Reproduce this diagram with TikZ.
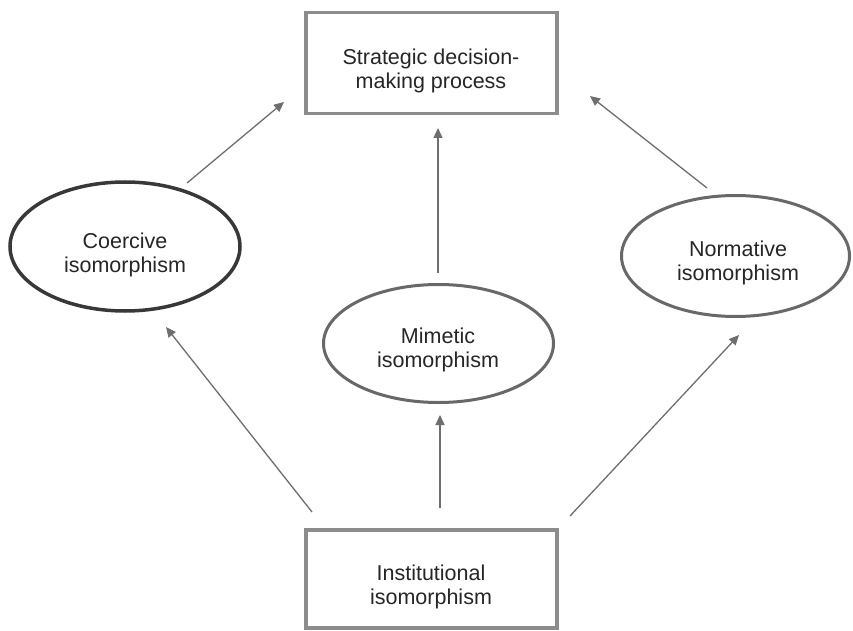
\documentclass[tikz,border=0pt]{standalone}
\usepackage{fontspec}
\setmainfont{Liberation Sans}
\usetikzlibrary{arrows.meta,shapes.geometric}
\definecolor{boxgray}{HTML}{8C8C8C}
\definecolor{darkell}{HTML}{383838}
\definecolor{ellgray}{HTML}{686868}
\definecolor{arrgray}{HTML}{6E6E6E}
\definecolor{textc}{HTML}{262626}
\begin{document}
\begin{tikzpicture}[x=1pt,y=-1pt,
  txt/.style={font=\fontsize{21.5}{24.5}\selectfont, text=textc, align=center, inner sep=0pt},
  rbox/.style={draw=boxgray, line width=3.5pt, minimum width=251pt, minimum height=101pt, inner sep=0pt},
  ell/.style={ellipse, draw=ellgray, line width=3pt, inner sep=0pt},
  arr/.style={draw=arrgray, line width=1.3pt, -{Triangle[length=10pt,width=9pt]}}]
\useasboundingbox[fill=white] (0,0) rectangle (853,631);
% boxes
\node[rbox] (top) at (431.5,63) {};
\node[txt] (toptxt) at (431,71) {Strategic decision-\\making process};
\node[rbox, minimum height=98pt] (inst) at (431.5,579) {};
\node[txt] (insttxt) at (431,587) {Institutional\\isomorphism};
% ellipses
\node[ell, draw=darkell, line width=3.5pt, minimum width=230pt, minimum height=129pt] (coer) at (125,246.5) {};
\node[txt] (coertxt) at (125,255) {Coercive\\isomorphism};
\node[ell, minimum width=230pt, minimum height=118pt] (mim) at (438.5,343.5) {};
\node[txt] (mimtxt) at (438,350) {Mimetic\\isomorphism};
\node[ell, minimum width=228pt, minimum height=121pt] (norm) at (735.5,256) {};
\node[txt] (normtxt) at (738,263) {Normative\\isomorphism};
% connector ends
\coordinate (c1s) at (187,183); \coordinate (c1e) at (284,102);
\coordinate (c2s) at (438,273); \coordinate (c2e) at (438,128);
\coordinate (c3s) at (707,188); \coordinate (c3e) at (590,96);
\coordinate (c4s) at (312,512); \coordinate (c4e) at (166,327);
\coordinate (c5s) at (440,508); \coordinate (c5e) at (440,415);
\coordinate (c6s) at (570,516); \coordinate (c6e) at (739,335);
\draw[arr] (c1s) -- (c1e);
\draw[arr] (c2s) -- (c2e);
\draw[arr] (c3s) -- (c3e);
\draw[arr] (c4s) -- (c4e);
\draw[arr] (c5s) -- (c5e);
\draw[arr] (c6s) -- (c6e);
\end{tikzpicture}
\end{document}
